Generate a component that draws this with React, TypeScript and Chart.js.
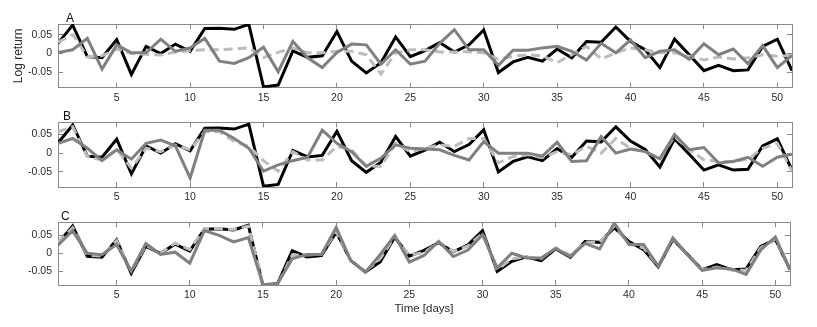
import React, { useEffect, useRef } from "react";
import { Chart, registerables } from "chart.js";

Chart.register(...registerables);

// ---------- data ----------
const DAYS = [
  1, 2, 3, 4, 5, 6, 7, 8, 9, 10, 11, 12, 13, 14, 15, 16, 17, 18, 19, 20, 21, 22, 23, 24, 25,
  26, 27, 28, 29, 30, 31, 32, 33, 34, 35, 36, 37, 38, 39, 40, 41, 42, 43, 44, 45, 46, 47, 48,
  49, 50, 51,
];

const X_TICKS = [5, 10, 15, 20, 25, 30, 35, 40, 45, 50];
const Y_TICKS = [-0.05, 0, 0.05];

// observed log return (black)
const ACTUAL = [
  0.027, 0.075, -0.008, -0.011, 0.037, -0.055, 0.019, 0.0, 0.025, 0.006,
  0.066, 0.067, 0.064, 0.077, -0.088, -0.083, 0.007, -0.01, -0.006, 0.058,
  -0.02, -0.051, -0.024, 0.044, -0.008, 0.008, 0.029, 0.004, 0.023, 0.062,
  -0.05, -0.022, -0.01, -0.02, 0.012, -0.011, 0.032, 0.03, 0.07, 0.032,
  0.01, -0.037, 0.038, -0.003, -0.045, -0.031, -0.045, -0.043, 0.019, 0.038,
  -0.045,
];

// panel A
const A_GRAY = [
  0.003, 0.01, 0.04, -0.041, 0.023, 0.002, 0.002, 0.038, 0.006, 0.015,
  0.04, -0.02, -0.026, -0.011, 0.017, -0.048, 0.032, -0.011, -0.037, 0.003,
  0.025, 0.023, -0.028, 0.01, -0.028, -0.02, 0.027, 0.063, 0.01, 0.01,
  -0.031, 0.009, 0.009, 0.015, 0.019, 0.006, -0.017, 0.027, 0.002, 0.036,
  -0.011, 0.006, 0.01, -0.015, 0.026, -0.003, 0.012, -0.027, 0.021, -0.037,
  -0.005,
];
const A_DASH = [
  0.03, 0.05, -0.008, -0.006, 0.012, 0.0, -0.002, -0.004, 0.004, 0.008,
  0.01, 0.01, 0.012, 0.015, -0.01, 0.003, 0.015, 0.002, 0.002, 0.006,
  0.006, -0.003, -0.054, 0.002, 0.01, 0.01, 0.004, 0.004, 0.005, 0.002,
  -0.015, -0.007, -0.003, -0.006, -0.024, -0.003, 0.019, -0.014, 0.002, 0.015,
  0.01, 0.002, 0.002, -0.007, -0.017, -0.009, -0.014, -0.011, -0.003, -0.007,
  -0.005,
];

// panel B
const B_GRAY = [
  0.026, 0.039, 0.013, -0.02, 0.009, -0.016, 0.026, 0.035, 0.019, -0.066,
  0.061, 0.061, 0.039, 0.013, -0.048, -0.031, -0.02, -0.011, 0.061, 0.026,
  0.004, -0.035, -0.013, 0.022, 0.013, 0.011, 0.009, -0.006, -0.018, 0.031,
  0.0, 0.0, 0.0, -0.008, 0.029, -0.022, -0.02, 0.044, 0.0, 0.011,
  0.004, -0.015, 0.05, 0.009, 0.015, -0.026, -0.022, -0.011, -0.035, -0.011,
  -0.003,
];
const B_DASH = [
  0.057, 0.07, -0.009, -0.018, 0.01, -0.04, 0.013, 0.004, 0.022, 0.009,
  0.057, 0.057, 0.031, 0.018, -0.02, -0.048, 0.004, -0.018, -0.018, 0.018,
  0.009, -0.035, -0.035, 0.026, 0.004, 0.013, 0.022, 0.018, 0.039, 0.039,
  -0.026, -0.009, -0.004, -0.012, 0.004, -0.004, 0.018, 0.0, 0.039, 0.013,
  0.004, -0.013, 0.044, 0.009, -0.018, -0.022, -0.022, -0.016, 0.013, 0.026,
  -0.048,
];

// panel C
const C_GRAY = [
  0.022, 0.062, 0.0, -0.004, 0.024, -0.049, 0.027, -0.003, 0.003, -0.027,
  0.062, 0.049, 0.031, 0.043, -0.086, -0.083, -0.015, -0.003, -0.003, 0.071,
  -0.02, -0.052, -0.004, 0.049, -0.024, -0.006, 0.033, -0.009, 0.009, 0.051,
  -0.04, 0.0, -0.013, -0.013, 0.013, -0.009, 0.027, 0.012, 0.083, 0.024,
  0.024, -0.036, 0.042, -0.004, -0.047, -0.04, -0.043, -0.058, 0.009, 0.045,
  -0.045,
];
const C_DASH = [
  0.03, 0.07, -0.005, -0.008, 0.035, -0.05, 0.022, 0.0, 0.028, 0.01,
  0.068, 0.068, 0.065, 0.075, -0.085, -0.085, -0.005, -0.005, -0.003, 0.06,
  -0.02, -0.05, -0.015, 0.045, -0.005, 0.002, 0.03, 0.005, 0.02, 0.055,
  -0.045, -0.015, -0.01, -0.015, 0.015, -0.005, 0.03, 0.03, 0.075, 0.025,
  0.015, -0.036, 0.04, -0.003, -0.045, -0.038, -0.045, -0.047, 0.015, 0.04,
  -0.045,
];

// ---------- styles ----------
const FONT = '"Liberation Sans", Arial, Helvetica, sans-serif';
const TEXT = "#2b2b2b";
const AXIS = "#8a8a8a";
const BLACK = "#000000";
const DARK = "#808080";
const LIGHT = "#bcbcbc";
const W = 817;

type PanelCfg = {
  label: string;
  top: number;
  height: number;
  plotTop: number;
  plotBottom: number;
  plotRight: number;
  yMin: number;
  yMax: number;
  gray: number[];
  dash: number[];
  labelDx: number;
  yTitle: boolean;
  xTitle: boolean;
};

const PANELS: PanelCfg[] = [
  { label: "A", top: 0, height: 105, plotTop: 24, plotBottom: 89, plotRight: 792, yMin: -0.09, yMax: 0.078, gray: A_GRAY, dash: A_DASH, labelDx: 8, yTitle: true, xTitle: false },
  { label: "B", top: 105, height: 100, plotTop: 122, plotBottom: 187, plotRight: 792, yMin: -0.09, yMax: 0.082, gray: B_GRAY, dash: B_DASH, labelDx: 5, yTitle: false, xTitle: false },
  { label: "C", top: 205, height: 122, plotTop: 220, plotBottom: 285, plotRight: 790, yMin: -0.087, yMax: 0.085, gray: C_GRAY, dash: C_DASH, labelDx: 3, yTitle: false, xTitle: true },
];

const panelLabelPlugin = {
  id: "panelLabel",
  afterDraw(chart: any, _args: any, opts: any) {
    const { ctx, chartArea } = chart;
    ctx.save();
    ctx.font = `12px ${FONT}`;
    ctx.fillStyle = "#111";
    ctx.textAlign = "left";
    ctx.textBaseline = "alphabetic";
    ctx.fillText(opts.text, chartArea.left + opts.dx, chartArea.top - 2);
    ctx.restore();
  },
};

const toPts = (vals: number[]) => DAYS.map((d, i) => ({ x: d, y: vals[i] }));

function Panel({ cfg }: { cfg: PanelCfg }) {
  const ref = useRef<HTMLCanvasElement | null>(null);

  useEffect(() => {
    if (!ref.current) return;
    const gridOpts = {
      drawOnChartArea: false,
      drawTicks: true,
      tickLength: -5,
      color: AXIS,
      lineWidth: 1,
    };
    const border = { display: true, color: AXIS, width: 1 };
    const xTicksFn = (s: any) => {
      s.ticks = X_TICKS.map((v) => ({ value: v }));
    };
    const yTicksFn = (s: any) => {
      s.ticks = Y_TICKS.map((v) => ({ value: v }));
    };

    const chart = new Chart(ref.current, {
      type: "line",
      data: {
        datasets: [
          {
            data: toPts(cfg.gray),
            borderColor: DARK,
            borderWidth: 3,
            pointRadius: 0,
            order: 0,
            xAxisID: "x",
            yAxisID: "y",
          },
          {
            data: toPts(cfg.dash),
            borderColor: LIGHT,
            borderWidth: 3,
            borderDash: [9, 5],
            pointRadius: 0,
            order: 1,
            xAxisID: "x",
            yAxisID: "y",
          },
          {
            data: toPts(ACTUAL),
            borderColor: BLACK,
            borderWidth: 3,
            pointRadius: 0,
            order: 2,
            xAxisID: "x",
            yAxisID: "y",
          },
        ],
      },
      options: {
        animation: false,
        responsive: false,
        devicePixelRatio: 1,
        layout: { padding: 0 },
        plugins: {
          legend: { display: false },
          tooltip: { enabled: false },
          title: { display: false },
          panelLabel: { text: cfg.label, dx: cfg.labelDx },
        } as any,
        elements: { line: { tension: 0, borderJoinStyle: "miter" as any } },
        scales: {
          x: {
            type: "linear",
            axis: "x",
            position: "bottom",
            min: 1,
            max: 51,
            afterBuildTicks: xTicksFn,
            afterFit: (s: any) => {
              s.height = cfg.height - (cfg.plotBottom - cfg.top);
            },
            grid: gridOpts,
            border,
            ticks: {
              padding: 9,
              color: TEXT,
              font: { family: FONT, size: 10.5 },
              maxRotation: 0,
              autoSkip: false,
              callback: (v: any) => String(v),
            },
            title: {
              display: cfg.xTitle,
              text: "Time [days]",
              color: TEXT,
              font: { family: FONT, size: 11.5 },
              padding: { top: 0, bottom: 11 },
            },
          },
          xTop: {
            type: "linear",
            axis: "x",
            position: "top",
            min: 1,
            max: 51,
            afterBuildTicks: xTicksFn,
            afterFit: (s: any) => {
              s.height = cfg.plotTop - cfg.top;
            },
            grid: gridOpts,
            border,
            ticks: { display: false },
          },
          y: {
            type: "linear",
            axis: "y",
            position: "left",
            min: cfg.yMin,
            max: cfg.yMax,
            afterBuildTicks: yTicksFn,
            afterFit: (s: any) => {
              s.width = 58;
            },
            grid: gridOpts,
            border,
            ticks: {
              padding: 11,
              color: TEXT,
              font: { family: FONT, size: 10.5 },
              autoSkip: false,
              callback: (v: any) => (v === 0 ? "0" : Number(v).toFixed(2)),
            },
            title: {
              display: cfg.yTitle,
              text: "Log return",
              color: TEXT,
              font: { family: FONT, size: 12 },
              padding: { top: 11, bottom: 0 },
            },
          },
          yRight: {
            type: "linear",
            axis: "y",
            position: "right",
            min: cfg.yMin,
            max: cfg.yMax,
            afterBuildTicks: yTicksFn,
            afterFit: (s: any) => {
              s.width = W - cfg.plotRight;
            },
            grid: gridOpts,
            border,
            ticks: { display: false },
          },
        } as any,
      },
      plugins: [panelLabelPlugin as any],
    });
    return () => chart.destroy();
  }, [cfg]);

  return (
    <canvas
      ref={ref}
      width={W}
      height={cfg.height}
      style={{ position: "absolute", left: 0, top: cfg.top, width: W, height: cfg.height }}
    />
  );
}

export default function App() {
  return (
    <div
      style={{
        position: "absolute",
        left: 0,
        top: 0,
        width: W,
        height: 327,
        background: "#ffffff",
        overflow: "hidden",
      }}
    >
      {PANELS.map((p) => (
        <Panel key={p.label} cfg={p} />
      ))}
    </div>
  );
}
